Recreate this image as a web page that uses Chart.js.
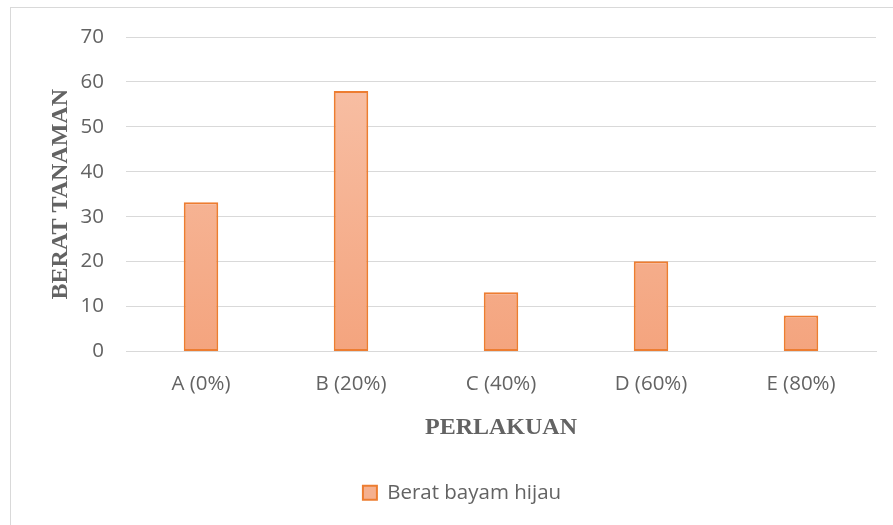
<!DOCTYPE html>
<html>
<head>
<meta charset="utf-8">
<script src="https://cdn.jsdelivr.net/npm/chart.js@4"></script>
<style>
  html, body { margin: 0; padding: 0; background: #fff; }
  #wrap { position: absolute; left: 0; top: 0; width: 893px; height: 525px; }
</style>
</head>
<body>
<div id="wrap"><canvas id="chart"></canvas></div>
<script>
// Data
const categories = ['A (0%)', 'B (20%)', 'C (40%)', 'D (60%)', 'E (80%)'];
const beratBayam = [33.2, 58.0, 13.2, 20.1, 8.0];
const seriesLabel = 'Berat bayam hijau';
const yTitle = 'BERAT TANAMAN';
const xTitle = 'PERLAKUAN';

const textColor = '#636363';
const gridColor = '#d9d9d9';
const tickFont = { family: 'Open Sans', size: 20.5 };
const titleFont = { family: 'Liberation Serif', size: 24, weight: 'bold' };

// outer border like the office chart frame, and legend nudge
const framePlugin = {
    id: 'frame',
    beforeDraw(chart) {
        const c = chart.ctx;
        c.save();
        c.fillStyle = '#fff';
        c.fillRect(0, 0, chart.width, chart.height);
        c.strokeStyle = gridColor;
        c.lineWidth = 1;
        c.strokeRect(10.5, 7.5, 1000, 1000);
        c.restore();
    },
    afterLayout(chart) {
        if (chart.legend) {
            chart.legend.left += 19;
            chart.legend.right += 19;
        }
    }
};

function barGradient(context) {
    const chart = context.chart;
    const area = chart.chartArea;
    if (!area) return '#f5b08f';
    const g = chart.ctx.createLinearGradient(0, area.top, 0, area.bottom);
    g.addColorStop(0, '#f8c3aa');
    g.addColorStop(1, '#f4a47e');
    return g;
}

const ctx = document.getElementById('chart').getContext('2d');
new Chart(ctx, {
    type: 'bar',
    data: {
        labels: categories,
        datasets: [{
            label: seriesLabel,
            data: beratBayam,
            backgroundColor: barGradient,
            borderColor: '#ed7d31',
            borderWidth: 2,
            borderSkipped: false,
            categoryPercentage: 1,
            barPercentage: 0.23
        }]
    },
    options: {
        responsive: true,
        maintainAspectRatio: false,
        animation: false,
        layout: { padding: { left: 10, top: 37, right: 17, bottom: 12 } },
        plugins: {
            tooltip: { enabled: false },
            legend: {
                position: 'bottom',
                labels: {
                    color: textColor,
                    font: tickFont,
                    boxWidth: 14,
                    boxHeight: 14,
                    padding: 10,
                    generateLabels(chart) {
                        const items = Chart.defaults.plugins.legend.labels.generateLabels(chart);
                        items.forEach(it => { it.fillStyle = '#f5b08f'; it.strokeStyle = '#ed7d31'; it.lineWidth = 2; });
                        return items;
                    }
                }
            }
        },
        scales: {
            y: {
                min: 0,
                max: 70,
                ticks: { stepSize: 10, color: textColor, font: tickFont, padding: 22 },
                grid: { color: gridColor, drawTicks: false },
                border: { display: false },
                title: {
                    display: true,
                    text: yTitle,
                    color: textColor,
                    font: titleFont,
                    padding: { top: 36, bottom: 0 }
                },
                afterFit(scale) { scale.width = 116; }
            },
            x: {
                ticks: { color: textColor, font: tickFont, padding: 20 },
                grid: { color: gridColor, drawTicks: false, drawOnChartArea: false },
                border: { color: gridColor },
                title: {
                    display: true,
                    text: xTitle,
                    color: textColor,
                    font: titleFont,
                    padding: { top: 0, bottom: 30 }
                },
                afterFit(scale) { scale.height = 121; }
            }
        }
    },
    plugins: [framePlugin]
});
</script>
</body>
</html>
